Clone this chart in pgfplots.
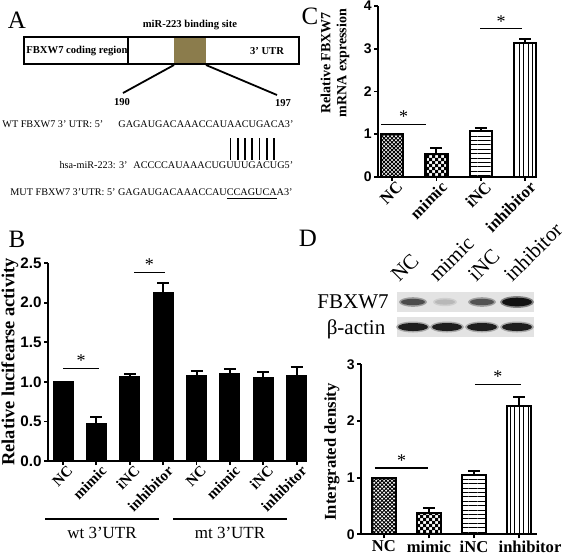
\documentclass[border=0pt]{standalone}
\usepackage{pgfplots}
\pgfplotsset{compat=1.18}
\usepackage{fontspec}
\setmainfont{Liberation Serif}
\setsansfont{Liberation Sans}
\usetikzlibrary{patterns,patterns.meta}

\pgfdeclarepatternformonly{smallchecker}{\pgfqpoint{-.1pt}{-.1pt}}{\pgfqpoint{3.1pt}{3.1pt}}{\pgfqpoint{3pt}{3pt}}{%
 \pgfpathrectangle{\pgfqpoint{0pt}{0pt}}{\pgfqpoint{1.55pt}{1.55pt}}%
 \pgfpathrectangle{\pgfqpoint{1.5pt}{1.5pt}}{\pgfqpoint{1.55pt}{1.55pt}}%
 \pgfusepath{fill}}

\newcommand{\fs}[1]{\fontsize{#1}{#1}\selectfont}
\definecolor{site}{RGB}{139,124,76}

\pgfplotsset{
 panel/.style={
  scale only axis, axis lines=left, axis line style={-, line width=1pt},
  tick align=outside, major tick length=2.5pt,
  every tick/.style={line width=0.9pt, black},
  ymin=0, clip=false,
  /pgf/number format/assume math mode=true,
  yticklabel style={font=\fs{7}\sffamily\bfseries, inner sep=1pt},
 },
 errs/.style={error bars/.cd, y dir=plus, y explicit,
  error bar style={line width=1pt, black},
  error mark options={rotate=90, mark size=3pt, line width=1pt, black}},
 pbar/.style={ybar, bar shift=0pt, draw=black, line width=1.1pt, pattern color=black},
}

\begin{document}
\begin{tikzpicture}
\useasboundingbox (0,0) rectangle (283.5pt,-277pt);

% ---------------- Panel A (schematic) ----------------
\begin{scope}[x=0.5pt,y=-0.5pt]
\node[font=\fs{12.5}] at (17,20) {A};
\node[font=\fs{5.3}\bfseries] at (190,25) {miR-223 binding site};
\fill[site] (174,37) rectangle (206,64);
\draw[line width=0.9pt] (24,37) rectangle (299,64);
\draw[line width=0.8pt] (128,37) -- (128,64);
\node[font=\fs{5.3}\bfseries] at (77,51) {FBXW7 coding region};
\node[font=\fs{5.3}\bfseries] at (267,51) {3’ UTR};
\draw[line width=0.9pt] (174,65) -- (123,93);
\draw[line width=0.9pt] (206,65) -- (277,95);
\node[font=\fs{5.3}\bfseries] at (122,102) {190};
\node[font=\fs{5.3}\bfseries] at (283,103) {197};
\node[font=\fs{5.1}, anchor=base west, inner sep=0pt] at (2,127.5) {WT FBXW7 3’ UTR: 5’};
\node[font=\fs{5.1}, anchor=base west, inner sep=0pt] at (118,127.5) {GAGAUGACAAACCAUAACUGACA3’};
\foreach \xx in {230.5,237.9,244.9,252,259.4,266.8,273.9}
  \draw[line width=0.7pt] (\xx,138) -- (\xx,160);
\node[font=\fs{5.1}, anchor=base east, inner sep=0pt] at (128,168.5) {hsa-miR-223: 3’};
\node[font=\fs{5.1}, anchor=base west, inner sep=0pt] at (133,168.5) {ACCCCAUAAACUGUUUGACUG5’};
\node[font=\fs{5.1}, anchor=base east, inner sep=0pt] at (293,195.5) {MUT FBXW7 3’UTR: 5’ GAGAUGACAAACCAU\underline{CCAGUCA}A3’};

% panel letters
\node[font=\fs{12.5}] at (17,239) {B};
\node[font=\fs{12.5}] at (310,16) {C};
\node[font=\fs{12.5}] at (308,238) {D};

% axis labels drawn as nodes
\node[font=\fs{9.2}\bfseries, rotate=90] at (10,362) {Relative lucifearse activity};
\node[font=\fs{7}\bfseries, rotate=90, align=center] at (335,63) {Relative FBXW7\\[1pt] mRNA expression};
\node[font=\fs{8.3}\bfseries, rotate=90] at (332,452) {Intergrated density};

% groups under B
\draw[line width=0.6pt] (45,519) -- (159,519);
\draw[line width=0.6pt] (173,519) -- (287,519);
\node[font=\fs{8.5}] at (102,533) {wt 3'UTR};
\node[font=\fs{8.5}] at (230,533) {mt 3'UTR};

% western blot
\node[font=\fs{10.5}] at (353,302) {FBXW7};
\node[font=\fs{10.5}] at (356,329) {β-actin};
\fill[black!11] (397,292) rectangle (534,312);
\fill[black!11] (397,317) rectangle (534,337);
\foreach \xx/\rx/\ry/\c in {413/12/3.2/70, 445/10/2.6/28, 482/12/3.2/68, 517/15/4.3/93}{
  \fill[black!\c!white, opacity=0.45] (\xx,302) ellipse ({\rx+2} and {\ry+1.6});
  \fill[black!\c] (\xx,302) ellipse ({\rx} and {\ry});
}
\foreach \xx in {413,447,482,517}{
  \fill[black!60, opacity=0.45] (\xx,327) ellipse (17 and 5.5);
  \fill[black!88] (\xx,327) ellipse (15 and 4);
}
\node[font=\fs{10.5}, rotate=45, anchor=base west, inner sep=0pt] at (399,283) {NC};
\node[font=\fs{10.5}, rotate=45, anchor=base west, inner sep=0pt] at (437,283) {mimic};
\node[font=\fs{10.5}, rotate=45, anchor=base west, inner sep=0pt] at (476,283) {iNC};
\node[font=\fs{10.5}, rotate=45, anchor=base west, inner sep=0pt] at (512,283) {inhibitor};
\end{scope}

% ---------------- Panel B ----------------
\begin{axis}[panel, at={(24pt,-230.5pt)}, anchor=south west,
  width=128.5pt, height=99pt, xmin=-0.45, xmax=7.25, ymax=2.5,
  ytick={0,0.5,1,1.5,2,2.5},
  yticklabel style={font=\fs{7.6}\sffamily\bfseries, /pgf/number format/fixed, /pgf/number format/fixed zerofill, /pgf/number format/precision=1},
  xtick={0,...,7}, xticklabels={NC,mimic,iNC,inhibitor,NC,mimic,iNC,inhibitor},
  xticklabel style={rotate=45, anchor=north east, font=\fs{7.5}\bfseries, inner sep=1pt, xshift=2.5pt},
  major tick length=2pt]
\addplot[ybar, bar width=10pt, bar shift=0pt, fill=black, draw=black, errs]
 coordinates {(0,1.00) +- (0,0) (1,0.48) +- (0,0.08) (2,1.07) +- (0,0.03) (3,2.13) +- (0,0.12)
              (4,1.08) +- (0,0.06) (5,1.11) +- (0,0.05) (6,1.06) +- (0,0.06) (7,1.08) +- (0,0.11)};
\draw[line width=0.6pt] (axis cs:0,1.17) -- (axis cs:1.08,1.17) node[midway, above, inner sep=0.5pt, font=\fs{9}] {*};
\draw[line width=0.6pt] (axis cs:2.13,2.38) -- (axis cs:3.05,2.38) node[midway, above, inner sep=0.5pt, font=\fs{9}] {*};
\end{axis}

% ---------------- Panel C ----------------
\begin{axis}[panel, at={(189pt,-88.35pt)}, anchor=south west,
  width=79.5pt, height=85.3pt, xmin=-0.32, xmax=3.27, ymax=4,
  ytick={0,1,2,3,4},
  xtick={0,1,2,3}, xticklabels={NC,mimic,iNC,inhibitor},
  xticklabel style={rotate=45, anchor=north east, font=\fs{8.3}\bfseries, inner sep=1pt, xshift=2.5pt},
  major tick length=2pt]
\addplot[pbar, bar width=11pt, pattern={Hatch[angle=45,distance=1.4pt,line width=0.45pt]}, errs] coordinates {(0,1.0) +- (0,0)};
\addplot[pbar, bar width=11pt, pattern=smallchecker, errs] coordinates {(1,0.53) +- (0,0.14)};
\addplot[pbar, bar width=11pt, pattern={Lines[angle=0,distance=2.2pt,line width=0.5pt]}, errs] coordinates {(2,1.07) +- (0,0.08)};
\addplot[pbar, bar width=11pt, pattern={Lines[angle=90,distance=2.2pt,line width=0.5pt]}, errs] coordinates {(3,3.14) +- (0,0.10)};
\draw[line width=0.6pt] (axis cs:-0.25,1.23) -- (axis cs:0.77,1.23) node[midway, above, inner sep=0.5pt, font=\fs{9}] {*};
\draw[line width=0.6pt] (axis cs:1.99,3.47) -- (axis cs:2.93,3.47) node[midway, above, inner sep=0.5pt, font=\fs{9}] {*};
\end{axis}

% ---------------- Panel D ----------------
\begin{axis}[panel, at={(180.5pt,-267.15pt)}, anchor=south west,
  width=88pt, height=85pt, xmin=-0.51, xmax=3.4, ymax=3,
  ytick={0,1,2,3},
  xtick={0,1,2,3}, xticklabels={NC,mimic,iNC,\hspace*{11pt}inhibitor},
  xticklabel style={font=\fs{8.3}\bfseries, inner sep=1pt},
  major tick length=2pt]
\addplot[pbar, bar width=12pt, pattern={Hatch[angle=45,distance=1.4pt,line width=0.45pt]}, errs] coordinates {(0,1.0) +- (0,0)};
\addplot[pbar, bar width=12pt, pattern=smallchecker, errs] coordinates {(1,0.37) +- (0,0.10)};
\addplot[pbar, bar width=12pt, pattern={Lines[angle=0,distance=2.2pt,line width=0.5pt]}, errs] coordinates {(2,1.05) +- (0,0.07)};
\addplot[pbar, bar width=12pt, pattern={Lines[angle=90,distance=2.2pt,line width=0.5pt]}, errs] coordinates {(3,2.27) +- (0,0.16)};
\draw[line width=0.6pt] (axis cs:-0.2,1.17) -- (axis cs:0.98,1.17) node[midway, above, inner sep=0.5pt, font=\fs{9}] {*};
\draw[line width=0.6pt] (axis cs:2.02,2.65) -- (axis cs:3.04,2.65) node[midway, above, inner sep=0.5pt, font=\fs{9}] {*};
\end{axis}
\end{tikzpicture}
\end{document}
